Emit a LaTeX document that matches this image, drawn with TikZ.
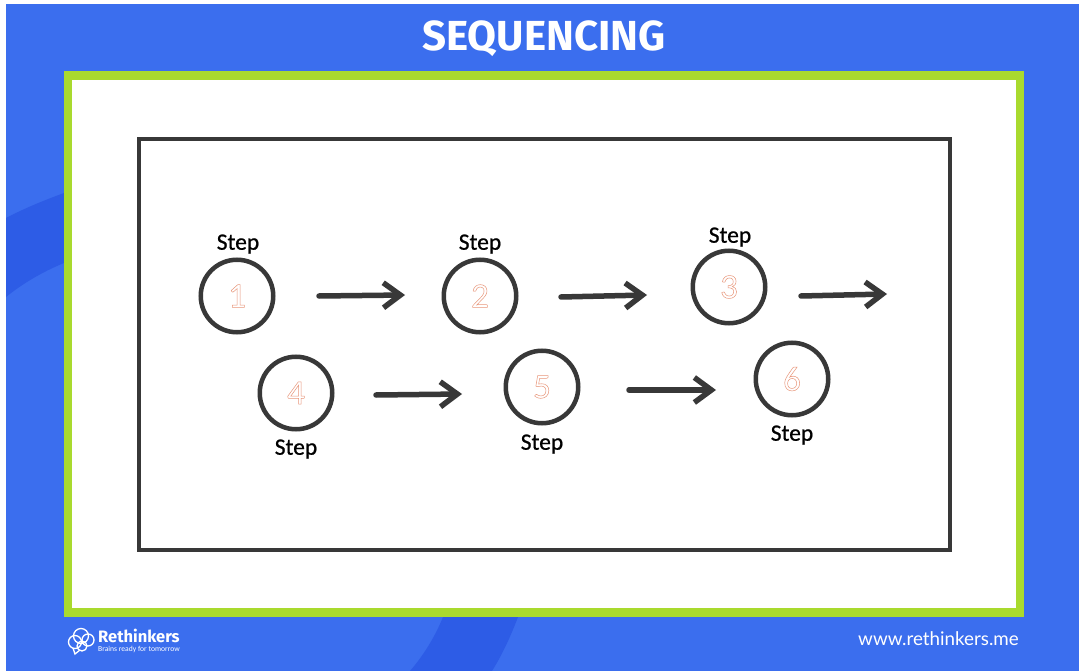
\documentclass[tikz,border=0pt]{standalone}
\usepackage{fontspec}
\usetikzlibrary{arrows.meta}
\setmainfont{Carlito}
\newfontfamily\titlefont{Fira Sans}
\newfontfamily\webfont{Lato}
\newfontfamily\stepfont[FakeBold=0.7]{Carlito}
\definecolor{slideblue}{HTML}{3B6EEE}
\definecolor{swooshblue}{HTML}{2D5CE6}
\definecolor{framegreen}{HTML}{A9DA2E}
\definecolor{inkgray}{HTML}{383838}
\definecolor{digitorange}{HTML}{E8967A}
\newcommand{\outlined}[1]{\special{pdf:code 1 Tr 0.5 w}#1\special{pdf:code 0 Tr}}
\tikzset{
  stepcircle/.style={circle,draw=inkgray,line width=4.5pt,minimum size=72.5pt,inner sep=0pt,
    text=digitorange,font=\fontsize{35}{35}\selectfont},
  steplabel/.style={font=\stepfont\fontsize{23.5}{24}\selectfont,text=black},
  seqarrow/.style={draw=inkgray,line width=5.5pt,line cap=round,
    -{Straight Barb[length=17pt,width=25pt,line width=5.5pt]}}
}
\begin{document}
\begin{tikzpicture}[x=1pt,y=-1pt]
  \useasboundingbox (0,0) rectangle (1079,671);
  \fill[slideblue] (6,4) rectangle (1079,671);
  \fill[swooshblue] (6,218) .. controls (25,208) and (45,200) .. (64,193) -- (64,263) .. controls (42,272) and (22,284) .. (6,297) -- cycle;
  \fill[swooshblue] (443,617) -- (518,617) .. controls (510,638) and (502,655) .. (492,671) -- (410,671) .. controls (423,656) and (435,637) .. (443,617) -- cycle;
  \draw[framegreen,line width=8.5pt,fill=white] (68,75.5) rectangle (1020,612.5);
  \draw[inkgray,line width=4pt] (138.5,139) rectangle (949.5,550);
  \node[text=white] (title) at (544,39) {\titlefont\bfseries\fontsize{42}{42}\selectfont SEQUENCING};

  \foreach \n/\x/\y in {1/237/296,2/480/296,3/729/287,4/296/393,5/542/387,6/792/379} {
    \node[stepcircle] (c\n) at (\x,\y) {\outlined{\n}};
  }
  \node[steplabel] (s1) at (238,244) {Step};
  \node[steplabel] (s2) at (480,244) {Step};
  \node[steplabel] (s3) at (730,237) {Step};
  \node[steplabel] (s4) at (296,449) {Step};
  \node[steplabel] (s5) at (542,444) {Step};
  \node[steplabel] (s6) at (792,435) {Step};

  \coordinate (a1) at (319,296);
  \coordinate (b1) at (405,295);
  \coordinate (a2) at (561,297);
  \coordinate (b2) at (647,295);
  \coordinate (a3) at (801,296);
  \coordinate (b3) at (887,294);
  \coordinate (a4) at (376,395);
  \coordinate (b4) at (462,394);
  \coordinate (a5) at (629,390);
  \coordinate (b5) at (716,390);
  \foreach \n in {1,...,5} {
    \draw[seqarrow] (a\n) -- (b\n);
  }

  % logo
  \begin{scope}[white,line width=1.3pt]
    \draw (81,636) circle (7.5pt);
    \draw (88,640) circle (6pt);
    \draw (75,642) circle (6.5pt);
    \draw (82,646) circle (5pt);
    \draw (73,648) -- (75,654) -- (80,650);
  \end{scope}
  \node[text=white,anchor=west,inner sep=0pt] (brand) at (98,636) {\titlefont\bfseries\fontsize{16.5}{17}\selectfont Rethinkers};
  \node[text=white,anchor=west,inner sep=0pt] (tag) at (98,649) {\fontsize{7.6}{8}\selectfont Brains ready for tomorrow};
  \node[text=white,anchor=east,inner sep=0pt] (web) at (1019,639) {\webfont\fontsize{18.8}{20}\selectfont www.rethinkers.me};
\end{tikzpicture}
\end{document}
